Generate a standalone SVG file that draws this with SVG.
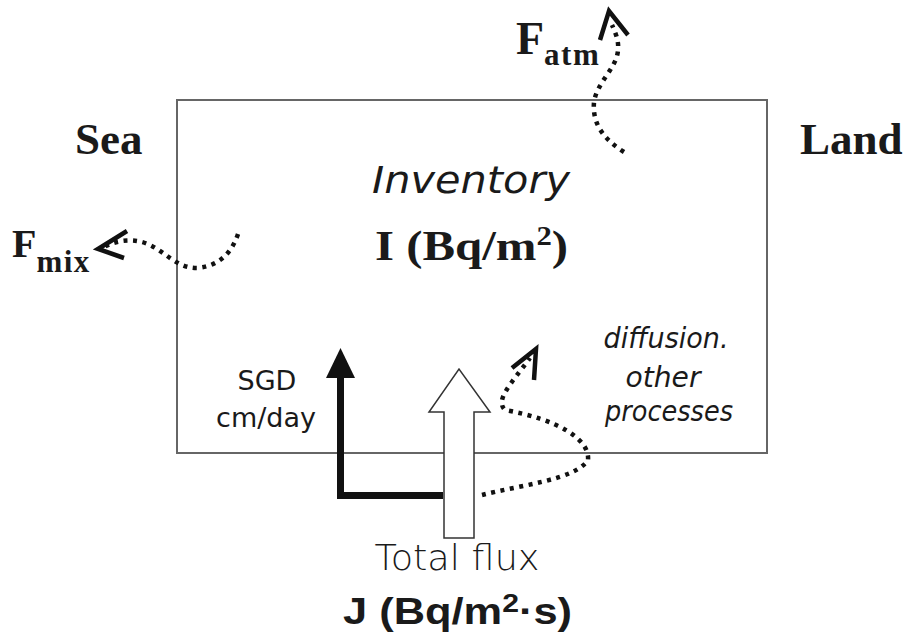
<svg xmlns="http://www.w3.org/2000/svg" width="913" height="639" viewBox="0 0 913 639">
<style>
.serif{font-family:"Liberation Serif","Times New Roman",serif;font-weight:bold;fill:#1a1a1a}
.sans{font-family:"DejaVu Sans","Noto Sans",sans-serif;fill:#1a1a1a}
.ital{font-family:"DejaVu Sans","Noto Sans",sans-serif;font-style:italic;fill:#1a1a1a}
.dot{fill:none;stroke:#111;stroke-width:4.5;stroke-dasharray:4 5.5;stroke-linecap:butt}
.head{fill:none;stroke:#111;stroke-width:4.5;stroke-linejoin:miter}
</style>
<rect width="913" height="639" fill="#fff"/>
<g id="box">
<rect x="177" y="100" width="590" height="353" fill="none" stroke="#666" stroke-width="2"/>
<text class="ital" x="471" y="193" font-size="38" text-anchor="middle" textLength="198" lengthAdjust="spacingAndGlyphs">Inventory</text>
<text class="serif" x="375" y="260" font-size="43" textLength="193" lengthAdjust="spacingAndGlyphs">I (Bq/m<tspan font-size="27" dy="-15">2</tspan><tspan dy="15">)</tspan></text>
</g>
<g id="sea"><text class="serif" x="75" y="154" font-size="45">Sea</text></g>
<g id="land"><text class="serif" x="800" y="154" font-size="45">Land</text></g>
<g id="fatm"><text class="serif" x="516" y="54" font-size="46">F<tspan font-size="31" dy="11" letter-spacing="1.5">atm</tspan></text></g>
<g id="fmix"><text class="serif" x="12" y="257" font-size="40">F<tspan font-size="31" dy="15" letter-spacing="1.5">mix</tspan></text></g>
<g id="sgd">
<text class="sans" x="267" y="390" font-size="27" text-anchor="middle">SGD</text>
<text class="sans" x="266" y="427" font-size="27" text-anchor="middle">cm/day</text>
</g>
<g id="diffusion">
<text class="ital" x="666" y="348" font-size="28" text-anchor="middle" textLength="125" lengthAdjust="spacingAndGlyphs">diffusion.</text>
<text class="ital" x="663" y="387" font-size="28" text-anchor="middle" textLength="75" lengthAdjust="spacingAndGlyphs">other</text>
<text class="ital" x="669" y="421" font-size="28" text-anchor="middle" textLength="128" lengthAdjust="spacingAndGlyphs">processes</text>
</g>
<g id="totalflux">
<text class="sans" x="457" y="570" font-size="35" text-anchor="middle" textLength="165" lengthAdjust="spacingAndGlyphs" style="font-weight:300">Total flux</text>
<text x="343" y="624" font-size="36" font-weight="bold" style="font-family:'Liberation Sans',Arial,sans-serif;fill:#1a1a1a" textLength="229" lengthAdjust="spacingAndGlyphs">J (Bq/m<tspan font-size="25" dy="-12">2</tspan><tspan dy="12">·s)</tspan></text>
</g>
<g id="connectors">
<polyline points="443,495.5 340.5,495.5 340.5,372" fill="none" stroke="#111" stroke-width="7"/>
<polygon points="340.5,348 355,378 326,378" fill="#111"/>
<polygon points="444,538 474,538 474,412 490,412 459,369 429,412 444,412" fill="#fff" stroke="#333" stroke-width="1.5"/>
<path class="dot" d="M482,495 C520,485 575,480 588,460 C590,440 560,420 505,410 C495,400 510,385 530,358"/>
<polyline class="head" points="512,368 536,349 534,380"/>
<path class="dot" d="M624,152 C605,140 592,125 594,102 C597,82 617,68 618,50 C619,40 615,32 612,25"/>
<polyline class="head" points="600,40 609,11 628,35"/>
<path class="dot" d="M238,234 C232,252 220,266 197,268 C175,268 165,250 145,243 C130,238 115,241 104,247"/>
<polyline class="head" points="127,231 98,249 124,258"/>
</g>
</svg>
